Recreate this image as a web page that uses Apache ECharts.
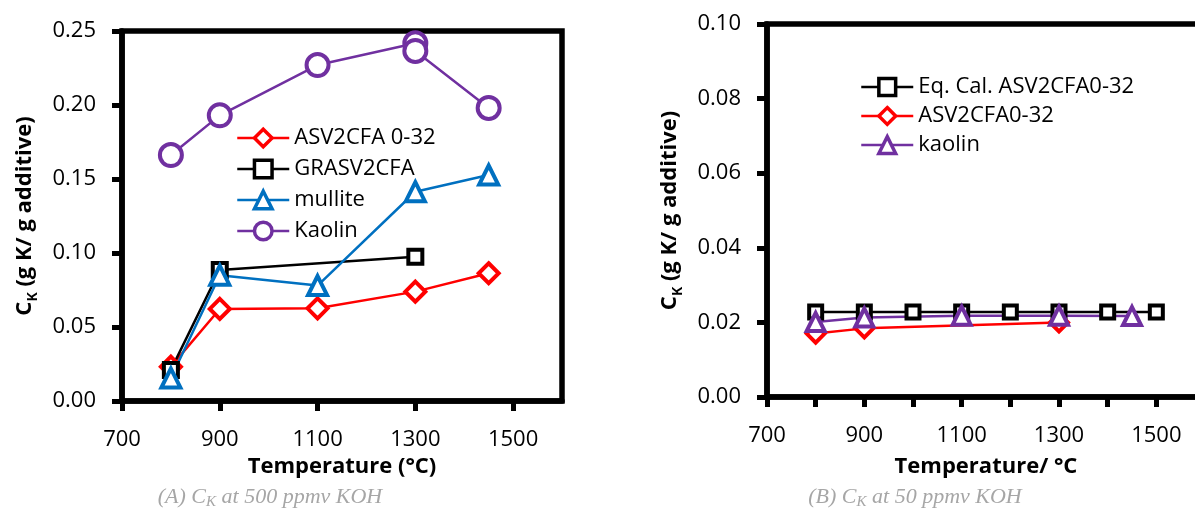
<!DOCTYPE html>
<html>
<head>
<meta charset="utf-8">
<script src="https://cdn.jsdelivr.net/npm/echarts@6/dist/echarts.min.js"></script>
<style>
  html, body { margin: 0; padding: 0; background: #fff; overflow: hidden; }
  #main { width: 1195px; height: 518px; }
</style>
</head>
<body>
<div id="main"></div>
<script>
// (A) 500 ppmv KOH
const tA_asv = [800, 900, 1100, 1300, 1450]
const ckA_asv = [0.0232, 0.0622, 0.0626, 0.0739, 0.0863]
const tA_gr = [800, 900, 1300]
const ckA_gr = [0.021, 0.0885, 0.0975]
const tA_mul = [800, 900, 1100, 1300, 1450]
const ckA_mul = [0.0155, 0.085, 0.078, 0.1414, 0.1527]
const tA_kao = [800, 900, 1100, 1300, 1300, 1450]
const ckA_kao = [0.1662, 0.193, 0.227, 0.2417, 0.2365, 0.198]

// (B) 50 ppmv KOH
const tB_eq = [800, 900, 1000, 1100, 1200, 1300, 1400, 1500]
const ckB_eq = [0.0228, 0.0228, 0.0228, 0.0228, 0.0228, 0.0228, 0.0228, 0.0228]
const tB_asv = [800, 900, 1300]
const ckB_asv = [0.0170, 0.0184, 0.0200]
const tB_kao = [800, 900, 1100, 1300, 1450]
const ckB_kao = [0.0201, 0.0213, 0.0218, 0.0218, 0.0217]

const namesA = ['ASV2CFA 0-32', 'GRASV2CFA', 'mullite', 'Kaolin']
const namesB = ['Eq. Cal. ASV2CFA0-32', 'ASV2CFA0-32', 'kaolin']

const FONT = 'Open Sans'
const pairs = (xs, ys) => xs.map((x, i) => [x, ys[i]])

function lineSeries(name, xi, xs, ys, color, symbol, size) {
  return {
    name, type: 'line', xAxisIndex: xi, yAxisIndex: xi,
    data: pairs(xs, ys),
    symbol, symbolSize: size, showAllSymbol: true,
    lineStyle: { color, width: 2.5 },
    itemStyle: { color: '#fff', borderColor: color, borderWidth: 4 },
    emphasis: { disabled: true },
    z: 3,
  }
}

// fresh objects for every axis (shared option objects misbehave)
function axisStyle(labelMargin, formatter, showMax) {
  return {
    axisLine: { show: true, onZero: false, lineStyle: { color: '#000', width: 5.5 } },
    axisTick: { show: true, length: 10, lineStyle: { color: '#000', width: 5 } },
    splitLine: { show: false },
    axisLabel: { fontFamily: FONT, fontSize: 22, color: '#000', margin: labelMargin, showMaxLabel: showMax, formatter },
  }
}

function yName() {
  return {
    name: '{m|C}{s|K}{m| (g K/ g additive)}',
    nameLocation: 'middle',
    nameGap: 82,
    nameMoveOverlap: false,
    nameTextStyle: {
      fontFamily: FONT, fontWeight: 'bold', fontSize: 22, color: '#000',
      rich: {
        m: { fontFamily: FONT, fontWeight: 'bold', fontSize: 22, lineHeight: 30 },
        s: { fontFamily: FONT, fontWeight: 'bold', fontSize: 14, lineHeight: 20, verticalAlign: 'bottom' },
      },
    },
  }
}

function legendBox(names, left, top, itemHeight, itemGap) {
  return {
    data: names, orient: 'vertical', left, top,
    itemWidth: 52, itemHeight, itemGap,
    itemStyle: { borderWidth: 3.5 },
    lineStyle: { width: 2.5 },
    textStyle: { fontFamily: FONT, fontSize: 22, color: '#000' },
    selectedMode: false,
  }
}

function caption(x, label, ppm) {
  return {
    type: 'text', x, y: 497,
    style: {
      text: '{a|' + label + ' C}{k|K}{a| at ' + ppm + ' ppmv KOH}',
      align: 'center', verticalAlign: 'middle',
      rich: {
        a: { fontFamily: 'Liberation Serif', fontStyle: 'italic', fontSize: 22, fill: '#A6A6A6', lineHeight: 26 },
        k: { fontFamily: 'Liberation Serif', fontStyle: 'italic', fontSize: 15, fill: '#A6A6A6', lineHeight: 18, verticalAlign: 'bottom' },
      },
    },
  }
}

const chart = echarts.init(document.getElementById('main'), null, { renderer: 'canvas' })

chart.setOption({
  animation: false,
  backgroundColor: '#fff',
  grid: [
    { left: 122, top: 31, width: 440, height: 370, show: true, borderColor: '#000', borderWidth: 5.5, outerBoundsMode: 'none' },
    { left: 767, top: 24, width: 438, height: 373, show: true, borderColor: '#000', borderWidth: 5.5, outerBoundsMode: 'none' },
  ],
  xAxis: [
    {
      ...axisStyle(28, (v) => String(v), false), type: 'value', gridIndex: 0, min: 700, max: 1600, interval: 200,
      name: 'Temperature (°C)', nameLocation: 'middle', nameGap: 55, nameMoveOverlap: false,
      nameTextStyle: { fontFamily: FONT, fontWeight: 'bold', fontSize: 22, color: '#000' },
    },
    {
      ...axisStyle(28, (v) => ((v - 700) % 200 === 0 ? String(v) : ''), false),
      type: 'value', gridIndex: 1, min: 700, max: 1600, interval: 100,
      name: 'Temperature/ °C', nameLocation: 'middle', nameGap: 59, nameMoveOverlap: false,
      nameTextStyle: { fontFamily: FONT, fontWeight: 'bold', fontSize: 22, color: '#000' },
    },
  ],
  yAxis: [
    {
      ...axisStyle(26, (v) => v.toFixed(2), true), ...yName(),
      type: 'value', gridIndex: 0, min: 0, max: 0.25, interval: 0.05,
    },
    {
      ...axisStyle(26, (v) => v.toFixed(2), true), ...yName(),
      type: 'value', gridIndex: 1, min: 0, max: 0.1, interval: 0.02,
    },
  ],
  legend: [
    legendBox(namesA, 231, 122, 22, 9),
    legendBox(namesB, 855, 71, 21, 7),
  ],
  series: [
    lineSeries(namesA[0], 0, tA_asv, ckA_asv, '#FF0000', 'diamond', 20),
    lineSeries(namesA[1], 0, tA_gr, ckA_gr, '#000000', 'rect', 14),
    lineSeries(namesA[2], 0, tA_mul, ckA_mul, '#0070C0', 'triangle', 19),
    lineSeries(namesA[3], 0, tA_kao, ckA_kao, '#7030A0', 'circle', 22),
    lineSeries(namesB[0], 1, tB_eq, ckB_eq, '#000000', 'rect', 13),
    lineSeries(namesB[1], 1, tB_asv, ckB_asv, '#FF0000', 'diamond', 18),
    lineSeries(namesB[2], 1, tB_kao, ckB_kao, '#7030A0', 'triangle', 18),
  ],
  graphic: [
    caption(270, '(A)', '500'),
    caption(915, '(B)', '50'),
  ],
})
</script>
</body>
</html>
